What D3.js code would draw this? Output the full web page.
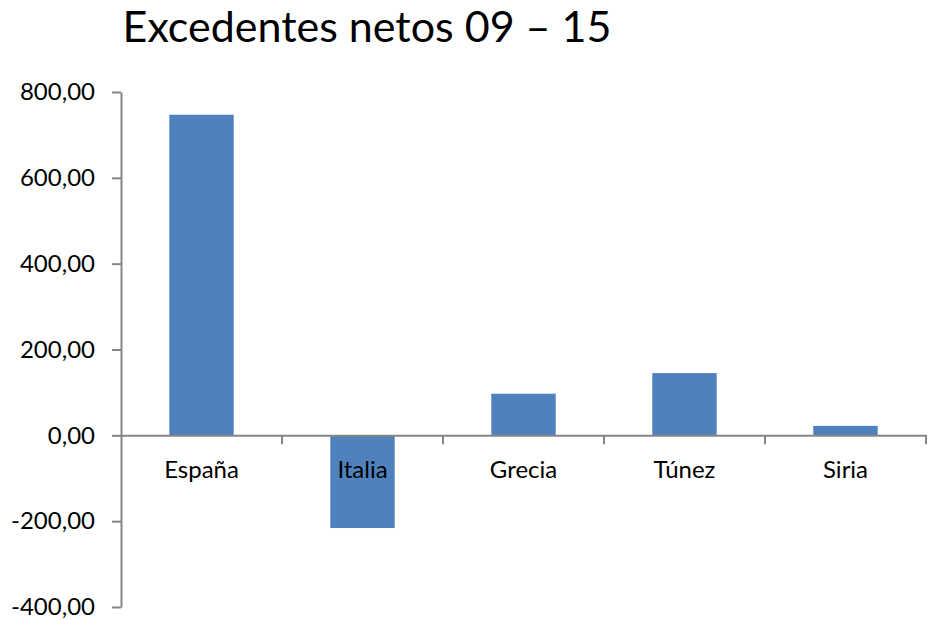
<!DOCTYPE html>
<html>
<head>
<meta charset="utf-8">
<script src="https://cdn.jsdelivr.net/npm/d3@7"></script>
<style>
  html, body { margin: 0; padding: 0; background: #fff; }
  svg { display: block; font-family: Lato, "Open Sans", sans-serif; }
</style>
</head>
<body>
<svg id="chart" width="934" height="620"></svg>
<script>
// Net surplus per country, 2009–2015
const categories = ["España", "Italia", "Grecia", "Túnez", "Siria"];
const values = [747, -216, 97, 145, 22];
const yTicks = [-400, -200, 0, 200, 400, 600, 800];
const chartTitle = "Excedentes netos 09 – 15";

const svg = d3.select("#chart");
const margin = { left: 121, right: 8, top: 92, bottom: 13 };
const W = 934, H = 620;

const x = d3.scaleBand()
  .domain(categories)
  .range([margin.left, W - margin.right])
  .paddingInner(0.6)
  .paddingOuter(0.3);

const y = d3.scaleLinear()
  .domain([-400, 800])
  .range([H - margin.bottom, margin.top]);

const fmt = v => d3.format(".2f")(v).replace(".", ",").replace("−", "-");
const axisColor = "#868686";

// title
svg.append("text")
  .attr("x", 367)
  .attr("y", 42)
  .attr("text-anchor", "middle")
  .attr("font-size", 43)
  .attr("fill", "#000")
  .text(chartTitle);

// bars
svg.append("g")
  .selectAll("rect")
  .data(categories.map((c, i) => ({ c, v: values[i] })))
  .join("rect")
  .attr("x", d => x(d.c))
  .attr("width", x.bandwidth())
  .attr("y", d => y(Math.max(0, d.v)))
  .attr("height", d => Math.abs(y(d.v) - y(0)))
  .attr("fill", "#4F81BD");

// y axis
const yAxis = svg.append("g")
  .attr("transform", `translate(${margin.left},0)`)
  .call(d3.axisLeft(y).tickValues(yTicks).tickFormat(fmt).tickSize(9).tickSizeOuter(0).tickPadding(17));
yAxis.select(".domain").attr("stroke", axisColor).attr("stroke-width", 2);
yAxis.selectAll(".tick line").attr("stroke", axisColor).attr("stroke-width", 2);
yAxis.selectAll(".tick text").attr("font-size", 24).attr("fill", "#000").attr("font-family", "Lato, sans-serif");

// category axis at zero
const xAxis = svg.append("g")
  .attr("transform", `translate(0,${y(0)})`)
  .call(d3.axisBottom(x).tickSize(0).tickSizeOuter(0).tickPadding(26));
xAxis.select(".domain").attr("stroke", axisColor).attr("stroke-width", 2);
xAxis.selectAll(".tick text").attr("font-size", 24).attr("fill", "#000").attr("font-family", "Lato, sans-serif");

// tick marks between categories, below the zero line
const plotWidth = W - margin.right - margin.left;
svg.append("g")
  .selectAll("line")
  .data(categories.map((c, i) => margin.left + (i + 1) * plotWidth / categories.length))
  .join("line")
  .attr("x1", d => d).attr("x2", d => d)
  .attr("y1", y(0)).attr("y2", y(0) + 9)
  .attr("stroke", axisColor)
  .attr("stroke-width", 2);
</script>
</body>
</html>
